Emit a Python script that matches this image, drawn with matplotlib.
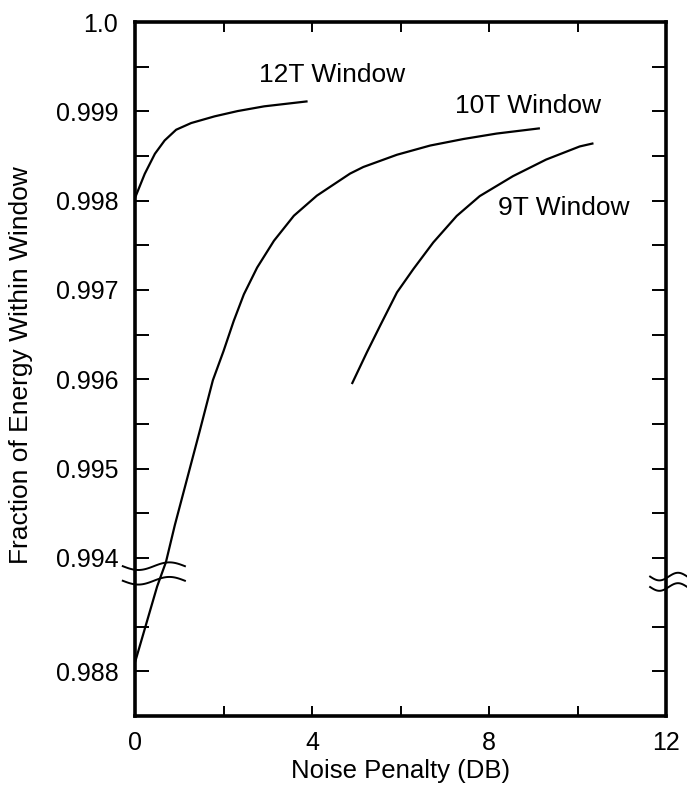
import numpy as np
import matplotlib
matplotlib.use("Agg")
import matplotlib.pyplot as plt
from matplotlib.ticker import FixedLocator, FixedFormatter

# data (x: noise penalty in dB, y: fraction of energy)
x_12t = [0.0, 0.22, 0.45, 0.67, 0.93, 1.27, 1.8, 2.32, 2.92, 3.9]
y_12t = [0.99803, 0.9983, 0.998525, 0.998674, 0.998794, 0.998869,
         0.998944, 0.999003, 0.999056, 0.999112]

x_10t = [0.0, 0.5, 0.7, 0.9, 1.16, 1.46, 1.76, 2.0, 2.23, 2.46, 2.76, 3.14,
         3.59, 4.11, 4.41, 4.86, 5.16, 5.92, 6.67, 7.42, 8.17, 9.15]
y_10t = [0.9881, 0.98895, 0.993955, 0.994367, 0.994854, 0.995416, 0.99599,
         0.996315, 0.996652, 0.996951, 0.997251, 0.997551, 0.997831,
         0.998056, 0.998155, 0.998303, 0.998377, 0.998514, 0.998617,
         0.99869, 0.998751, 0.99881]

x_9t = [4.9, 5.24, 5.54, 5.92, 6.29, 6.74, 7.27, 7.79, 8.54, 9.29, 10.05, 10.36]
y_9t = [0.995947, 0.996302, 0.996601, 0.996973, 0.997234, 0.997532,
        0.997829, 0.998051, 0.998274, 0.99846, 0.998607, 0.998642]

y_major = [1.0, 0.999, 0.998, 0.997, 0.996, 0.995, 0.994, 0.988]
y_major_labels = ["1.0", "0.999", "0.998", "0.997", "0.996", "0.995", "0.994", "0.988"]
y_minor = [0.9995, 0.9985, 0.9975, 0.9965, 0.9955, 0.9945, 0.9885]
x_major = [0, 4, 8, 12]
x_minor = [2, 6, 10]

# broken y axis: values below the break are shifted up
OFFSET = 0.00473
BREAK_T = 0.993826


def forward(y):
    y = np.asarray(y, dtype=float)
    return np.where(y >= 0.9915, y, y + OFFSET)


def inverse(t):
    t = np.asarray(t, dtype=float)
    return np.where(t >= BREAK_T, t, t - OFFSET)


plt.rcParams["font.family"] = ["Liberation Sans", "DejaVu Sans"]

fig = plt.figure(figsize=(6.87, 7.89), dpi=100)
ax = fig.add_axes([0.1965, 0.0925, 0.773, 0.8796])
ax.set_yscale("function", functions=(forward, inverse))

for xs, ys in [(x_12t, y_12t), (x_10t, y_10t), (x_9t, y_9t)]:
    ax.plot(xs, ys, color="black", lw=1.6, solid_capstyle="butt",
            solid_joinstyle="round")

ax.set_xlim(0, 12)
ax.set_ylim(0.9875, 1.0)

ax.yaxis.set_major_locator(FixedLocator(y_major))
ax.yaxis.set_major_formatter(FixedFormatter(y_major_labels))
ax.yaxis.set_minor_locator(FixedLocator(y_minor))
ax.xaxis.set_major_locator(FixedLocator(x_major))
ax.xaxis.set_minor_locator(FixedLocator(x_minor))

ax.tick_params(axis="both", which="both", direction="in", width=1.4,
               top=True, right=True, labelsize=18, color="black")
ax.tick_params(axis="y", which="both", length=10, pad=12)
ax.tick_params(axis="x", which="both", length=7, pad=11)
for sp in ax.spines.values():
    sp.set_linewidth(2.6)

ax.set_xlabel("Noise Penalty (DB)", fontsize=18.5, labelpad=3)
ax.set_ylabel("Fraction of Energy Within Window", fontsize=19, va="center")
ax.yaxis.set_label_coords(-0.214, 0.506)

ax.text(2.81, 0.999407, "12T Window", fontsize=19, va="center", ha="left")
ax.text(7.23, 0.999063, "10T Window", fontsize=19, va="center", ha="left")
ax.text(8.2, 0.997921, "9T Window", fontsize=19, va="center", ha="left")

# break marks on both sides of the axis
hi_t, lo_t = forward(1.0), forward(0.9875)
frac = float((BREAK_T - lo_t) / (hi_t - lo_t))
s = np.linspace(0, 1, 60)
wave = 0.0055 * np.sin(2 * np.pi * s + np.pi)
for x0, w, yc, gap in [(-0.023, 0.117, frac, 0.0105),
                       (0.97, 0.07, frac - 0.012, 0.0075)]:
    for dy in (gap, -gap):
        ax.plot(x0 + w * s, yc + dy + wave, transform=ax.transAxes,
                color="black", lw=1.4, clip_on=False)

fig.savefig("out.png", dpi=100)
